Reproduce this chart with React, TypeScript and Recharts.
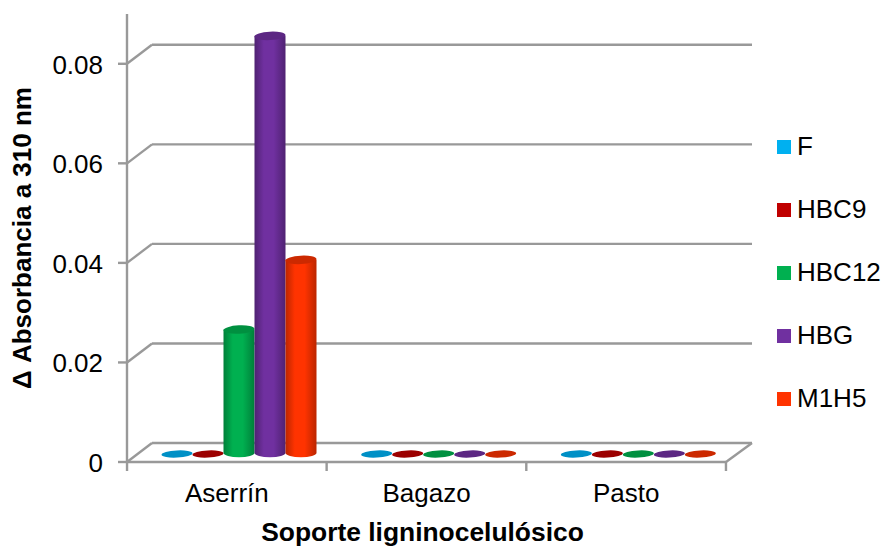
import React from 'react';
import { BarChart, Bar, XAxis, YAxis, CartesianGrid, Legend } from 'recharts';

const soportes = ['Aserrín', 'Bagazo', 'Pasto'];
const F = [0, 0, 0];
const HBC9 = [0, 0, 0];
const HBC12 = [0.025, 0, 0];
const HBG = [0.084, 0, 0];
const M1H5 = [0.039, 0, 0];
const yTicks = [0, 0.02, 0.04, 0.06, 0.08];

const WIDTH = 885;
const HEIGHT = 547;
const AXIS = '#999999';
const FONT = '"Liberation Sans", Arial, sans-serif';

// Depth of the pseudo-3D box, and how far the cylinders sit inside it.
const DEPTH_X = 25;
const DEPTH_Y = 19;
const BAR_SHIFT_X = 12.5;
const BAR_SHIFT_Y = 8;

const seriesList = [
  { name: 'F', values: F, base: '#00b0f0', edge: '#0088ba', cap: '#0090c6' },
  { name: 'HBC9', values: HBC9, base: '#c00000', edge: '#920000', cap: '#9c0000' },
  { name: 'HBC12', values: HBC12, base: '#00b050', edge: '#00803a', cap: '#009040' },
  { name: 'HBG', values: HBG, base: '#7030a0', edge: '#4f2272', cap: '#5c2783' },
  { name: 'M1H5', values: M1H5, base: '#ff3300', edge: '#bb2600', cap: '#cc2900' },
];

const rows = soportes.map((soporte, i) => {
  const row: Record<string, string | number> = { soporte };
  seriesList.forEach((s) => {
    row[s.name] = s.values[i];
  });
  return row;
});

function cylinder(s: (typeof seriesList)[number]) {
  return (props: any) => {
    const { x, y, width, height } = props;
    const cx = x + width / 2 + BAR_SHIFT_X;
    const top = y - BAR_SHIFT_Y;
    const bottom = top + height - 1;
    const rx = width / 2;
    const ry = 4.2;
    const left = cx - rx;
    const right = cx + rx;
    const tilt = `rotate(-3 ${cx} `;
    if (height < 1) {
      return <ellipse cx={cx} cy={top} rx={rx} ry={3.6} fill={s.cap} transform={`${tilt}${top})`} />;
    }
    return (
      <g>
        <path
          d={`M${left},${top} L${left},${bottom} A${rx},${ry} 0 0 0 ${right},${bottom} L${right},${top} Z`}
          fill={`url(#cyl-${s.name})`}
        />
        <ellipse cx={cx} cy={top} rx={rx} ry={ry} fill={s.cap} transform={`${tilt}${top})`} />
      </g>
    );
  };
}

// Each grid line is the back-wall line plus its diagonal down to the value axis.
function wallLine(props: any) {
  const { x1, x2, y1 } = props;
  const atFloor = y1 > 400;
  return (
    <g stroke={AXIS} strokeWidth={2.4} fill="none">
      <line x1={x1 + DEPTH_X} y1={y1 - DEPTH_Y} x2={x2 + DEPTH_X + 1} y2={y1 - DEPTH_Y} />
      <line x1={x1} y1={y1} x2={x1 + DEPTH_X} y2={y1 - DEPTH_Y} />
      {atFloor && <line x1={x2} y1={y1} x2={x2 + DEPTH_X + 1} y2={y1 - DEPTH_Y} />}
    </g>
  );
}

function categoryTick(props: any) {
  const { x, y, payload, index } = props;
  const half = 99.8;
  return (
    <g>
      {index === 0 && <line x1={x - half} y1={y - 8} x2={x - half} y2={y + 1} stroke={AXIS} strokeWidth={2.4} />}
      <line x1={x + half} y1={y - 8} x2={x + half} y2={y + 1} stroke={AXIS} strokeWidth={2.4} />
      <text x={x} y={y + 32} textAnchor="middle" fontFamily={FONT} fontSize={26} fill="#000">
        {payload.value}
      </text>
    </g>
  );
}

function valueTick(props: any) {
  const { x, y, payload } = props;
  return (
    <text x={x - 13} y={y + 10} textAnchor="end" fontFamily={FONT} fontSize={26} fill="#000">
      {payload.value === 0 ? '0' : payload.value.toFixed(2)}
    </text>
  );
}

function legendContent() {
  return (
    <div style={{ fontFamily: FONT, fontSize: 26, color: '#000' }}>
      {seriesList.map((s) => (
        <div key={s.name} style={{ height: 63, display: 'flex', alignItems: 'center' }}>
          <span style={{ width: 14, height: 14, background: s.base, marginRight: 6, flex: 'none' }} />
          <span>{s.name}</span>
        </div>
      ))}
    </div>
  );
}

export default function App() {
  return (
    <div style={{ width: WIDTH, height: HEIGHT, background: '#fff' }}>
      <style>{'body { margin: 0; }'}</style>
      <BarChart
        width={WIDTH}
        height={HEIGHT}
        data={rows}
        margin={{ top: 14, right: 51, bottom: 5, left: 57 }}
        barCategoryGap={22}
        barGap={0}
      >
        <defs>
          {seriesList.map((s) => (
            <linearGradient key={s.name} id={`cyl-${s.name}`} x1="0" y1="0" x2="1" y2="0">
              <stop offset="0%" stopColor={s.edge} />
              <stop offset="30%" stopColor={s.base} />
              <stop offset="62%" stopColor={s.base} />
              <stop offset="100%" stopColor={s.edge} />
            </linearGradient>
          ))}
        </defs>
        <CartesianGrid vertical={false} horizontal={wallLine} syncWithTicks />
        <XAxis
          dataKey="soporte"
          height={80}
          axisLine={{ stroke: AXIS, strokeWidth: 2.4 }}
          tickLine={false}
          tick={categoryTick}
          interval={0}
          label={{
            value: 'Soporte ligninocelulósico',
            position: 'insideBottom',
            offset: 1,
            dx: -4,
            style: { fontFamily: FONT, fontSize: 26.4, fontWeight: 700, fill: '#000' },
          }}
        />
        <YAxis
          width={70}
          domain={[0, 0.09]}
          ticks={yTicks}
          interval={0}
          axisLine={{ stroke: AXIS, strokeWidth: 2.4 }}
          tickLine={{ stroke: AXIS, strokeWidth: 2.4 }}
          tickSize={9}
          tick={valueTick}
          label={{
            value: 'Δ Absorbancia a 310 nm',
            angle: -90,
            position: 'insideLeft',
            offset: -35,
            style: { fontFamily: FONT, fontSize: 26, fontWeight: 700, fill: '#000', textAnchor: 'middle' },
          }}
        />
        <Legend
          content={legendContent}
          layout="vertical"
          align="right"
          verticalAlign="top"
          wrapperStyle={{ position: 'absolute', left: 777, top: 115, width: 108 }}
        />
        {seriesList.map((s) => (
          <Bar key={s.name} dataKey={s.name} fill={s.base} shape={cylinder(s)} isAnimationActive={false} />
        ))}
      </BarChart>
    </div>
  );
}
